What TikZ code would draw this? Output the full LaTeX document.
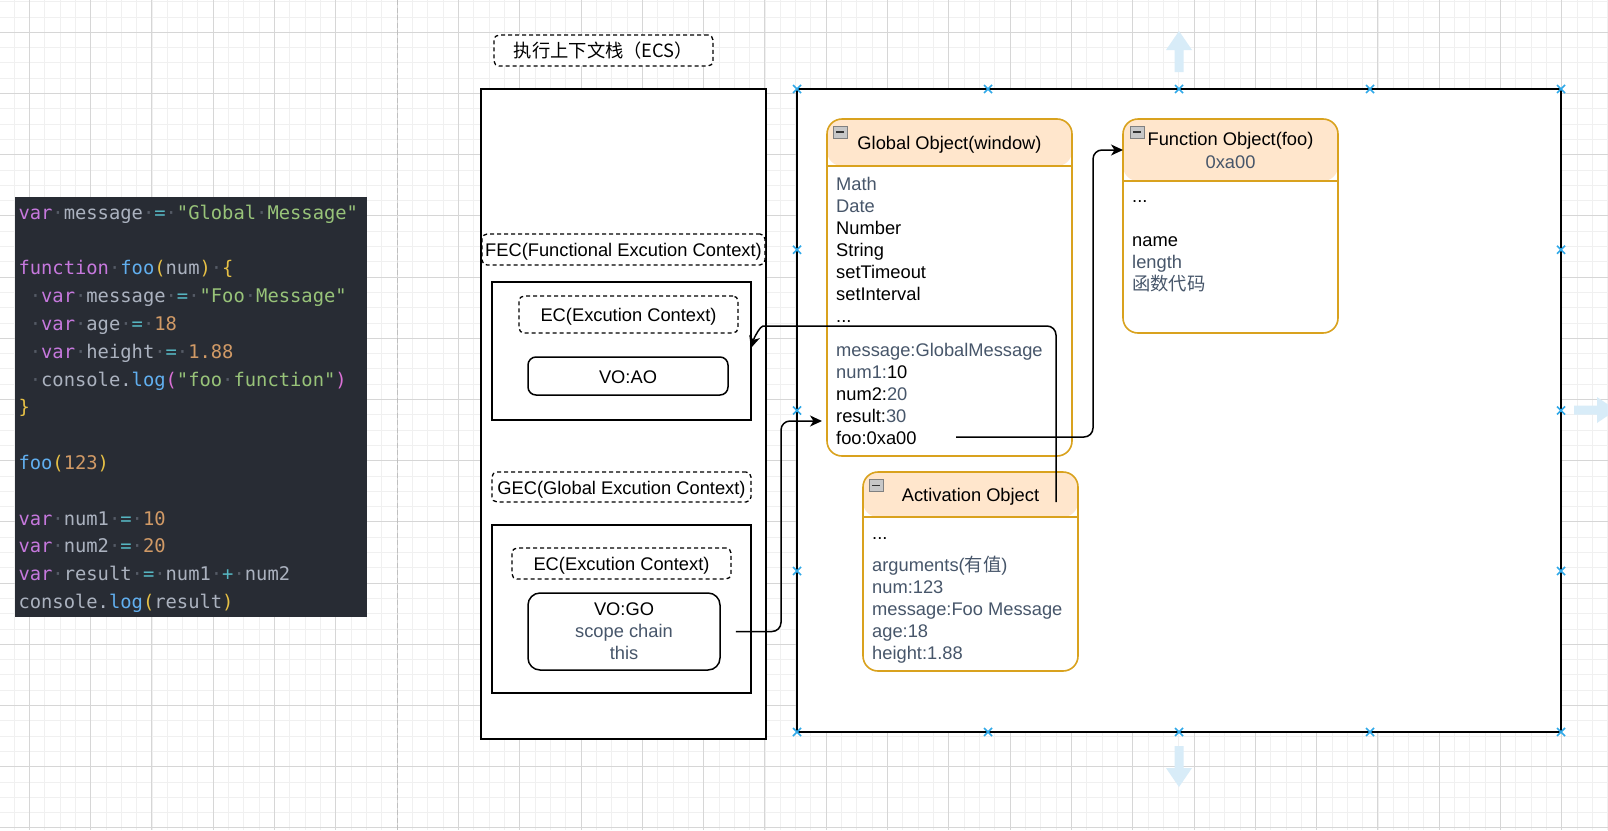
\documentclass[tikz,border=0pt]{standalone}
\usepackage{fontspec}
\setmainfont{Liberation Sans}
\setmonofont{DejaVu Sans Mono}
\newfontfamily\cjk{Noto Sans CJK SC}
\usetikzlibrary{arrows.meta}

\definecolor{slate}{HTML}{47566A}
\definecolor{orgline}{HTML}{D9A21E}
\definecolor{hdrfill}{HTML}{FFE6CC}
\definecolor{gmincol}{HTML}{F0F0F0}
\definecolor{gmajcol}{HTML}{D6D6D6}
\definecolor{hdlcol}{HTML}{2FA8E8}
\definecolor{hintcol}{HTML}{D8ECF8}
\definecolor{codebg}{HTML}{282C34}
\definecolor{ckwc}{HTML}{C678DD}
\definecolor{cidc}{HTML}{ABB2BF}
\definecolor{copc}{HTML}{56B6C2}
\definecolor{cstrc}{HTML}{98C379}
\definecolor{cnumc}{HTML}{D19A66}
\definecolor{cfnc}{HTML}{61AFEF}
\definecolor{cboc}{HTML}{E6C045}
\definecolor{cbpc}{HTML}{DA70D6}
\definecolor{cdotc}{HTML}{555B66}

\newcommand\ckw[1]{\textcolor{ckwc}{#1}}
\newcommand\cid[1]{\textcolor{cidc}{#1}}
\newcommand\cop[1]{\textcolor{copc}{#1}}
\newcommand\cstr[1]{\textcolor{cstrc}{#1}}
\newcommand\cnum[1]{\textcolor{cnumc}{#1}}
\newcommand\cfn[1]{\textcolor{cfnc}{#1}}
\newcommand\cbo[1]{\textcolor{cboc}{#1}}
\newcommand\cbp[1]{\textcolor{cbpc}{#1}}
\newcommand\wsp{\textcolor{cdotc}{·}}
\newcommand\ind{\hphantom{x}\wsp}

\tikzset{
  blk/.style={draw=black, line width=1.5pt, fill=white, inner sep=0pt},
  dlab/.style={draw=black, dash pattern=on 4pt off 3pt, line width=1.3pt, rounded corners=5pt,
    fill=white, text height=14pt, text depth=0pt, inner sep=0pt, font=\fontsize{18.3}{22}\selectfont},
  rbox/.style={draw=black, line width=1.5pt, rounded corners=10pt, fill=white, inner sep=0pt,
    font=\fontsize{18.3}{22}\selectfont},
  obj/.style={draw=orgline, line width=1.6pt, rounded corners=15pt, fill=white, inner sep=0pt},
  txt/.style={anchor=base west, inner sep=0pt, font=\fontsize{18.3}{22}\selectfont},
  ttl/.style={anchor=base, inner sep=0pt, font=\fontsize{18.3}{22}\selectfont},
  cl/.style={anchor=base west, inner sep=0pt, font=\ttfamily\fontsize{18.8}{22}\selectfont, text=cidc},
  conn/.style={draw=black, line width=1.5pt, -{Stealth[length=12pt,width=11pt,inset=3.5pt]}},
  minusbox/.style={draw=gray, fill=black!22, line width=0.8pt, minimum width=14pt, minimum height=12pt,
    inner sep=0pt, path picture={\draw[black!80, line width=1.6pt]
      ([xshift=3pt]path picture bounding box.west) -- ([xshift=-3pt]path picture bounding box.east);}},
  gmin/.style={draw=gmincol, line width=0.8pt},
  gmaj/.style={draw=gmajcol, line width=1pt},
  hdl/.style={draw=hdlcol, line width=1.5pt},
}

\begin{document}
\begin{tikzpicture}[x=1pt,y=-1pt]
\useasboundingbox (0,0) rectangle (1608,830);
\clip (0,0) rectangle (1608,830);
\fill[white] (0,0) rectangle (1608,830);

% grid
\foreach \k in {-2,...,103} \draw[gmin] ({29.3+15.325*\k},0) -- ({29.3+15.325*\k},830);
\foreach \k in {-3,...,52} \draw[gmin] (0,{32.2+15.3*\k}) -- (1608,{32.2+15.3*\k});
\foreach \k in {0,...,26} \draw[gmaj] ({29.3+61.3*\k},0) -- ({29.3+61.3*\k},830);
\foreach \k in {-1,...,13} \draw[gmaj] (0,{32.2+61.2*\k}) -- (1608,{32.2+61.2*\k});
\draw[draw=black!25, line width=1.6pt, dash pattern=on 5pt off 2.5pt] (397.6,0) -- (397.6,830);

% code panel
\node[fill=codebg, minimum width=352pt, minimum height=420pt, inner sep=0pt] (code) at (190.5,407) {};
\node[cl] (c1) at (18.3,219.3) {\ckw{var}\wsp\cid{message}\wsp\cop{=}\wsp\cstr{"Global\wsp Message"}};
\node[cl] (c2) at (18.3,274.9) {\ckw{function}\wsp\cfn{foo}\cbo{(}\cid{num}\cbo{)}\wsp\cbo{\{}};
\node[cl] (c3) at (18.3,302.7) {\ind\ckw{var}\wsp\cid{message}\wsp\cop{=}\wsp\cstr{"Foo\wsp Message"}};
\node[cl] (c4) at (18.3,330.5) {\ind\ckw{var}\wsp\cid{age}\wsp\cop{=}\wsp\cnum{18}};
\node[cl] (c5) at (18.3,358.3) {\ind\ckw{var}\wsp\cid{height}\wsp\cop{=}\wsp\cnum{1.88}};
\node[cl] (c6) at (18.3,386.1) {\ind\cid{console.}\cfn{log}\cbp{(}\cstr{"foo\wsp function"}\cbp{)}};
\node[cl] (c7) at (18.3,413.9) {\cbo{\}}};
\node[cl] (c9) at (18.3,469.5) {\cfn{foo}\cbo{(}\cnum{123}\cbo{)}};
\node[cl] (c11) at (18.3,525.1) {\ckw{var}\wsp\cid{num1}\wsp\cop{=}\wsp\cnum{10}};
\node[cl] (c12) at (18.3,552.9) {\ckw{var}\wsp\cid{num2}\wsp\cop{=}\wsp\cnum{20}};
\node[cl] (c13) at (18.3,580.7) {\ckw{var}\wsp\cid{result}\wsp\cop{=}\wsp\cid{num1}\wsp\cop{+}\wsp\cid{num2}};
\node[cl] (c14) at (18.3,608.5) {\cid{console.}\cfn{log}\cbo{(}\cid{result}\cbo{)}};

% execution context stack
\node[dlab, minimum width=219pt, minimum height=31pt] (ecs) at (603.5,50.5) {\cjk 执行上下文栈（ECS）};
\node[blk, minimum width=285pt, minimum height=650pt] (stack) at (623.5,414) {};
\node[dlab, minimum width=283pt, minimum height=31pt] (fec) at (623.5,249.5) {FEC(Functional Excution Context)};
\node[blk, minimum width=259pt, minimum height=138pt] (fecbox) at (621.5,351) {};
\node[dlab, minimum width=219pt, minimum height=37pt] (ec1) at (628.5,314.5) {EC(Excution Context)};
\node[rbox, rounded corners=8pt, minimum width=200pt, minimum height=38pt, text height=14pt, text depth=0pt] (voao) at (628,376) {VO:AO};
\node[dlab, minimum width=259pt, minimum height=30pt] (gec) at (621.5,487) {GEC(Global Excution Context)};
\node[blk, minimum width=259pt, minimum height=168pt] (gecbox) at (621.5,609) {};
\node[dlab, minimum width=219pt, minimum height=31pt] (ec2) at (621.5,563.5) {EC(Excution Context)};
\node[rbox, rounded corners=12pt, minimum width=192pt, minimum height=77pt, align=center] (vogo) at (624,631.5)
  {VO:GO\\ \textcolor{slate}{scope chain}\\ \textcolor{slate}{this}};

% heap
\node[blk, minimum width=764pt, minimum height=643pt] (heap) at (1179,410.5) {};

% Global object
\node[obj, minimum width=245pt, minimum height=337pt,
  path picture={\fill[hdrfill] (path picture bounding box.north west) rectangle ([yshift=-47pt]path picture bounding box.north east);
  \draw[orgline, line width=1.6pt] ([yshift=-47pt]path picture bounding box.north west) -- ([yshift=-47pt]path picture bounding box.north east);}]
  (go) at (949.5,287.5) {};
\node[minusbox] (gomin) at (840,132) {};
\node[ttl] (gotitle) at (949.5,149) {Global Object(window)};
\node[txt, text=slate] (g1) at (836,190.7) {Math};
\node[txt, text=slate] (g2) at (836,212.6) {Date};
\node[txt] (g3) at (836,234.5) {Number};
\node[txt] (g4) at (836,256.4) {String};
\node[txt] (g5) at (836,278.3) {setTimeout};
\node[txt] (g6) at (836,300.2) {setInterval};
\node[txt] (g7) at (836,322.1) {...};
\node[txt, text=slate] (g8) at (836,356) {message:GlobalMessage};
\node[txt] (g9) at (836,378) {\textcolor{slate}{num1:}10};
\node[txt] (g10) at (836,400) {num2:\textcolor{slate}{20}};
\node[txt] (g11) at (836,422) {result:\textcolor{slate}{30}};
\node[txt] (g12) at (836,444) {foo:0xa00};

% Function object
\node[obj, minimum width=215pt, minimum height=214pt,
  path picture={\fill[hdrfill] (path picture bounding box.north west) rectangle ([yshift=-62pt]path picture bounding box.north east);
  \draw[orgline, line width=1.6pt] ([yshift=-62pt]path picture bounding box.north west) -- ([yshift=-62pt]path picture bounding box.north east);}]
  (fo) at (1230.5,226) {};
\node[minusbox] (fomin) at (1137,132) {};
\node[ttl] (fotitle) at (1230.5,145) {Function Object(foo)};
\node[ttl, text=slate] (foaddr) at (1230.5,168) {0xa00};
\node[txt] (f1) at (1132,202) {...};
\node[txt] (f2) at (1132,246) {name};
\node[txt, text=slate] (f3) at (1132,268) {length};
\node[txt, text=slate] (f4) at (1132,290) {\cjk 函数代码};

% Activation object
\node[obj, minimum width=215pt, minimum height=199pt,
  path picture={\fill[hdrfill] (path picture bounding box.north west) rectangle ([yshift=-45pt]path picture bounding box.north east);
  \draw[orgline, line width=1.6pt] ([yshift=-45pt]path picture bounding box.north west) -- ([yshift=-45pt]path picture bounding box.north east);}]
  (ao) at (970.5,571.5) {};
\node[minusbox] (aomin) at (876,485.5) {};
\node[ttl] (aotitle) at (970.5,501) {Activation Object};
\node[txt] (a1) at (872,539) {...};
\node[txt, text=slate] (a2) at (872,571) {arguments({\cjk 有值})};
\node[txt, text=slate] (a3) at (872,593) {num:123};
\node[txt, text=slate] (a4) at (872,615) {message:Foo Message};
\node[txt, text=slate] (a5) at (872,637) {age:18};
\node[txt, text=slate] (a6) at (872,659) {height:1.88};

% connectors
\coordinate (r1s) at ([xshift=15pt]vogo.east);
\coordinate (r1t) at (822,421);
\draw[conn, rounded corners=9pt] (r1s) -- (781,631.5) -- (781,421) -- (r1t);

\coordinate (r2s) at (1056,502);
\coordinate (r2t) at (751,348);
\draw[conn, rounded corners=9pt] (r2s) -- (1056,326) -- (772,326) .. controls (761,326) and (755,335) .. (r2t);

\coordinate (r3s) at (956,437);
\coordinate (r3t) at (1123,150);
\draw[conn, rounded corners=9pt] (r3s) -- (1093,437) -- (1093,150) -- (r3t);

% selection handles
\foreach \x in {797,988,1179,1370,1561} {
  \draw[hdl] (\x-4,85) -- (\x+4,93) (\x-4,93) -- (\x+4,85);
  \draw[hdl] (\x-4,728) -- (\x+4,736) (\x-4,736) -- (\x+4,728);
}
\foreach \y in {249.75,410.5,571} {
  \draw[hdl] (793,\y-4) -- (801,\y+4) (793,\y+4) -- (801,\y-4);
  \draw[hdl] (1557,\y-4) -- (1565,\y+4) (1557,\y+4) -- (1565,\y-4);
}

% faint hint arrows
\fill[hintcol] (1174.5,72) -- (1174.5,50) -- (1166,50) -- (1179,31) -- (1192,50) -- (1183.5,50) -- (1183.5,72) -- cycle;
\fill[hintcol] (1174.5,746) -- (1174.5,768) -- (1166,768) -- (1179,787) -- (1192,768) -- (1183.5,768) -- (1183.5,746) -- cycle;
\fill[hintcol] (1574,405.5) -- (1597,405.5) -- (1597,397) -- (1616,410) -- (1597,423) -- (1597,414.5) -- (1574,414.5) -- cycle;
\end{tikzpicture}
\end{document}
